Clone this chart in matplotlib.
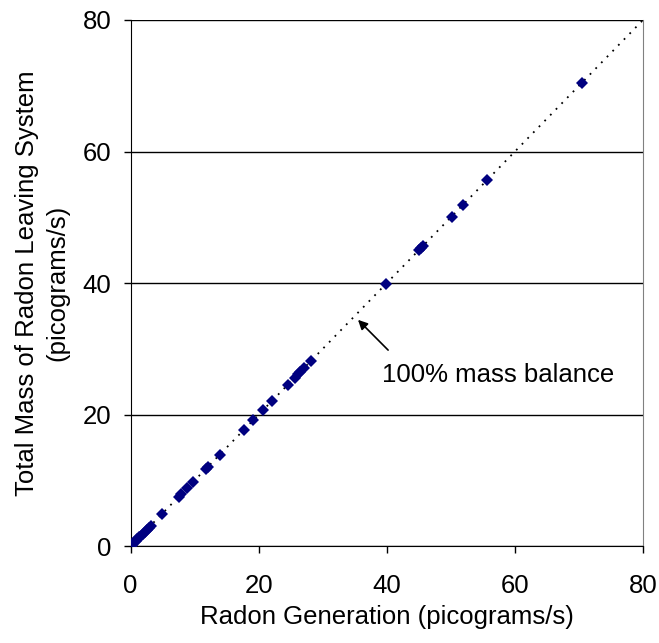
import matplotlib
matplotlib.use("Agg")
import matplotlib.pyplot as plt

plt.rcParams["font.family"] = ["Liberation Sans", "DejaVu Sans"]

# radon generation vs total mass leaving system (picograms/s)
generation = [0.0, 0.2, 0.4, 0.6, 0.8, 1.0, 1.3, 1.6, 1.9, 2.2, 2.5, 2.8, 3.1,
              4.9, 7.5, 7.9, 8.8, 9.8, 11.7, 12.0, 13.9, 17.7, 19.1, 20.7,
              22.1, 24.5, 25.6, 26.1, 26.5, 27.1, 28.2, 39.9, 45.0, 45.3,
              45.7, 50.1, 51.9, 55.6, 70.5]
leaving = [0.0, 0.2, 0.4, 0.6, 0.8, 1.0, 1.3, 1.6, 1.9, 2.2, 2.5, 2.8, 3.1,
           4.9, 7.5, 7.9, 8.8, 9.8, 11.7, 12.0, 13.9, 17.7, 19.1, 20.7,
           22.1, 24.5, 25.6, 26.1, 26.5, 27.1, 28.2, 39.9, 45.0, 45.3,
           45.7, 50.1, 51.9, 55.6, 70.4]
balance_line = [0, 80]
ticks = [0, 20, 40, 60, 80]

fig = plt.figure(figsize=(6.59, 6.43), dpi=100)
ax = fig.add_axes([0.1983, 0.1508, 0.7774, 0.8181])

ax.plot(balance_line, balance_line, color="black", lw=1.3, linestyle=(0, (1, 3.5)), zorder=2)
ax.plot(generation, leaving, linestyle="none", marker="D", markersize=6,
        color="#000080", markeredgewidth=0, zorder=3)

ax.set_xlim(0, 80)
ax.set_ylim(0, 80)
ax.set_xticks(ticks)
ax.set_yticks(ticks)
ax.yaxis.grid(True, color="black", lw=1)
ax.set_axisbelow(True)

ax.spines["top"].set_visible(False)
ax.spines["right"].set_color("#808080")

ax.tick_params(axis="both", direction="out", length=5, width=1, labelsize=18.5, color="black")
ax.tick_params(axis="x", pad=15)
ax.tick_params(axis="y", pad=9)

ax.set_xlabel("Radon Generation (picograms/s)", fontsize=18.5)
ax.xaxis.set_label_coords(0.5, -0.112)
ax.set_ylabel("Total Mass of Radon Leaving System\n(picograms/s)", fontsize=18.5, linespacing=1.35)
ax.yaxis.set_label_coords(-0.12, 0.5)

ax.text(39.3, 26, "100% mass balance", fontsize=18.5, va="center", ha="left")
ax.annotate("", xy=(35.5, 34.4), xytext=(40.2, 29.8),
            arrowprops=dict(arrowstyle="-|>", color="black", lw=1.2,
                            shrinkA=0, shrinkB=0, mutation_scale=14))

fig.savefig("out.png", dpi=100)
